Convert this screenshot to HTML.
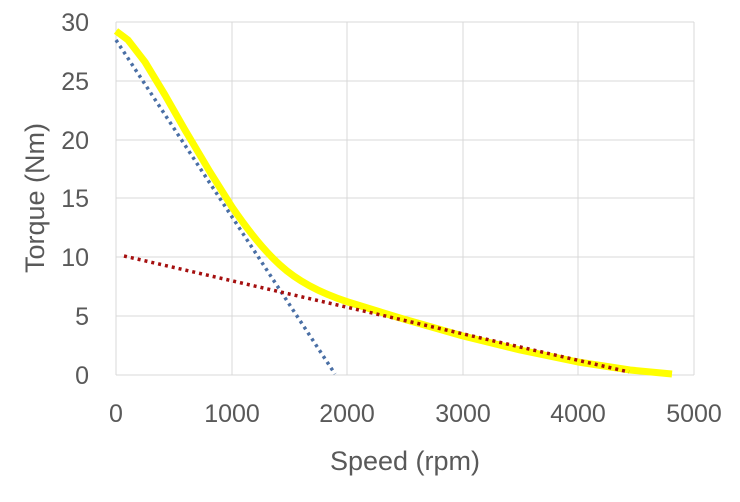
<!DOCTYPE html>
<html><head><style>body{margin:0;background:#fff}</style></head><body>
<svg width="740" height="497" xmlns="http://www.w3.org/2000/svg" font-family="Liberation Sans, sans-serif">
<g stroke="#d9d9d9" stroke-width="1">
<line x1="116" y1="22" x2="694" y2="22"/><line x1="116" y1="81" x2="694" y2="81"/>
<line x1="116" y1="140" x2="694" y2="140"/><line x1="116" y1="198" x2="694" y2="198"/>
<line x1="116" y1="257" x2="694" y2="257"/><line x1="116" y1="316" x2="694" y2="316"/>
<line x1="116" y1="375" x2="694" y2="375"/>
<line x1="116" y1="22" x2="116" y2="375"/><line x1="232" y1="22" x2="232" y2="375"/>
<line x1="347" y1="22" x2="347" y2="375"/><line x1="463" y1="22" x2="463" y2="375"/>
<line x1="578" y1="22" x2="578" y2="375"/><line x1="694" y1="22" x2="694" y2="375"/>
</g>
<path d="M116,31 L128,40 L145,62 L165,95 L185,130 L210,172 L232,207 Q258,245 280,265 Q305,288 348,302 L400,318 L463,336 L520,350 L578,362 L630,370 L672,374" fill="none" stroke="#ffff00" stroke-width="7" stroke-linejoin="round"/>
<line x1="116" y1="40" x2="335" y2="374" stroke="#4a6fa5" stroke-width="3.5" stroke-dasharray="3,4"/>
<line x1="124" y1="256" x2="629" y2="372" stroke="#a50f0f" stroke-width="3.5" stroke-dasharray="3,4"/>
<g font-size="25" fill="#595959" text-anchor="end">
<text x="89" y="31">30</text><text x="89" y="90">25</text><text x="89" y="149">20</text>
<text x="89" y="207">15</text><text x="89" y="266">10</text><text x="89" y="325">5</text><text x="89" y="384">0</text>
</g>
<g font-size="25" fill="#595959" text-anchor="middle">
<text x="116" y="422">0</text><text x="232" y="422">1000</text><text x="347" y="422">2000</text>
<text x="463" y="422">3000</text><text x="578" y="422">4000</text><text x="694" y="422">5000</text>
</g>
<g font-size="27" fill="#595959" text-anchor="middle">
<text x="405" y="470">Speed (rpm)</text>
<text transform="translate(44,198) rotate(-90)">Torque (Nm)</text>
</g>
</svg>
</body></html>
